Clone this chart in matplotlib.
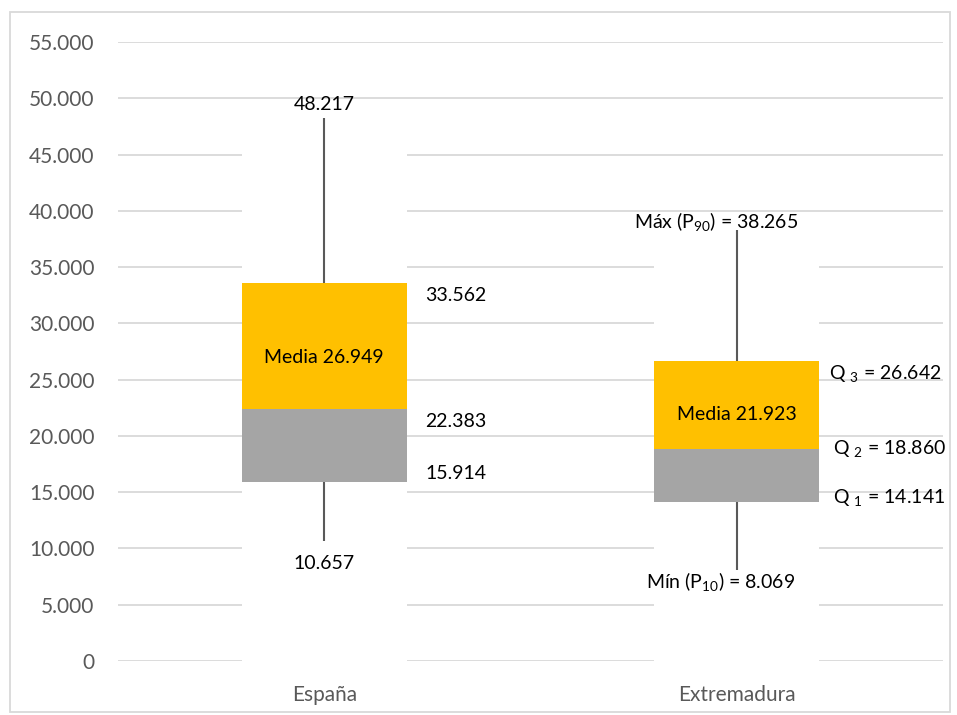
import matplotlib.pyplot as plt
from matplotlib.patches import Rectangle

# Box plot values per region
categories = ["España", "Extremadura"]
minimum = [10657, 8069]
q1 = [15914, 14141]
q2 = [22383, 18860]
q3 = [33562, 26642]
maximum = [48217, 38265]
mean = [26949, 21923]

y_ticks = list(range(0, 55001, 5000))


def fmt(v):
    return f"{v:,}".replace(",", ".")


plt.rcParams["font.family"] = ["Lato", "DejaVu Sans"]
plt.rcParams["mathtext.fontset"] = "custom"
plt.rcParams["mathtext.rm"] = "Lato"
plt.rcParams["mathtext.it"] = "Lato"

fig = plt.figure(figsize=(9.57, 7.15), dpi=100)
ax = fig.add_axes([0.1233, 0.0755, 0.862, 0.8658])

x = list(range(len(categories)))
width = 0.4
orange = "#FFC000"
grey = "#A5A5A5"
whisker = "#595959"

# stacked columns: white base, grey Q1-Q2, orange Q2-Q3, white cap up to max
ax.bar(x, q1, width, color="white", zorder=2)
ax.bar(x, [b - a for a, b in zip(q1, q2)], width, bottom=q1, color=grey, zorder=2)
ax.bar(x, [b - a for a, b in zip(q2, q3)], width, bottom=q2, color=orange, zorder=2)
ax.bar(x, [b - a for a, b in zip(q3, maximum)], width, bottom=q3, color="white", zorder=2)

# whiskers
ax.vlines(x, minimum, q1, color=whisker, lw=1.5, zorder=3)
ax.vlines(x, q3, maximum, color=whisker, lw=1.5, zorder=3)

ax.set_xlim(-0.5, 1.5)
ax.set_ylim(0, 55000)
ax.set_yticks(y_ticks)
ax.set_yticklabels([fmt(v) for v in y_ticks])
ax.set_xticks(x)
ax.set_xticklabels(categories)
ax.yaxis.grid(True, color="#D9D9D9", lw=1.3)
ax.set_axisbelow(True)
for s in ax.spines.values():
    s.set_visible(False)
ax.tick_params(axis="y", length=0, pad=17, labelsize=15, labelcolor="#595959")
ax.tick_params(axis="x", length=0, pad=17, labelsize=15, labelcolor="#595959")

fs = 14
# España labels
ax.annotate(fmt(maximum[0]), (0, maximum[0]), xytext=(0, 10), textcoords="offset points",
            ha="center", va="center", fontsize=fs)
ax.annotate(fmt(minimum[0]), (0, minimum[0]), xytext=(0, -16), textcoords="offset points",
            ha="center", va="center", fontsize=fs)
ax.annotate(fmt(q3[0]), (0.32, q3[0]), xytext=(0, -9), textcoords="offset points",
            ha="center", va="center", fontsize=fs)
ax.annotate(fmt(q2[0]), (0.32, q2[0]), xytext=(0, -9), textcoords="offset points",
            ha="center", va="center", fontsize=fs)
ax.annotate(fmt(q1[0]), (0.32, q1[0]), xytext=(0, 6), textcoords="offset points",
            ha="center", va="center", fontsize=fs)

# Extremadura labels
ax.annotate(r"Máx (P$_{90}$) = " + fmt(maximum[1]), (0.95, maximum[1]), xytext=(0, 6),
            textcoords="offset points", ha="center", va="center", fontsize=fs)
ax.annotate(r"Mín (P$_{10}$) = " + fmt(minimum[1]), (0.96, minimum[1]), xytext=(0, -8),
            textcoords="offset points", ha="center", va="center", fontsize=fs)
ax.annotate(r"Q $_3$ = " + fmt(q3[1]), (1.36, q3[1]), xytext=(0, -9),
            textcoords="offset points", ha="center", va="center", fontsize=fs)
ax.annotate(r"Q $_2$ = " + fmt(q2[1]), (1.37, q2[1]), xytext=(0, 0),
            textcoords="offset points", ha="center", va="center", fontsize=fs)
ax.annotate(r"Q $_1$ = " + fmt(q1[1]), (1.37, q1[1]), xytext=(0, 3),
            textcoords="offset points", ha="center", va="center", fontsize=fs)

# mean labels inside the orange part
for i in x:
    ax.text(i, mean[i], "Media " + fmt(mean[i]), ha="center", va="center",
            fontsize=fs, zorder=4)

# chart border
fig.patches.append(Rectangle((10 / 957, 3 / 715), 940 / 957, 700 / 715,
                             transform=fig.transFigure, fill=False,
                             edgecolor="#D9D9D9", lw=1.3))

fig.savefig("out.png", dpi=100)
